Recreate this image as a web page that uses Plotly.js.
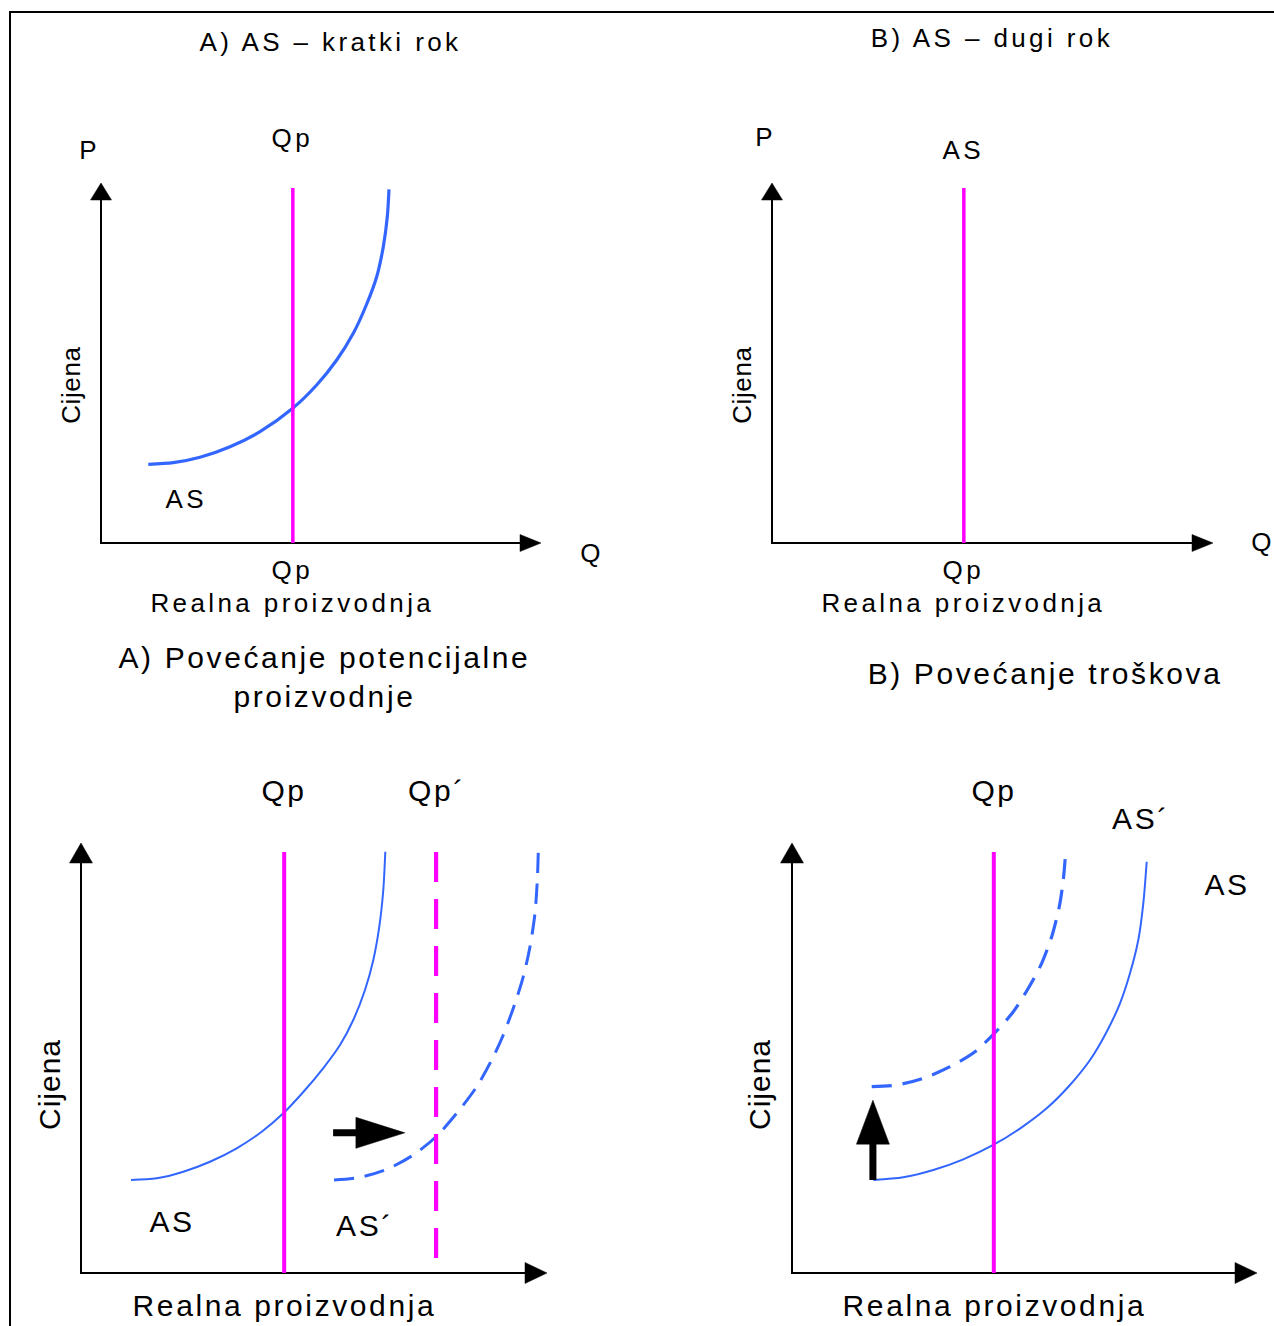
<!DOCTYPE html>
<html>
<head>
<meta charset="utf-8">
<script src="https://cdn.plot.ly/plotly-3.0.1.min.js"></script>
<style>html,body{margin:0;padding:0;background:#fff}</style>
</head>
<body>
<div id="chart" style="width:1274px;height:1326px"></div>
<script>
// ===================== DATA (Q and P in chart units, axes run 0..10) =====================
// Panel A) AS - kratki rok
const qpA = 4.36;
const qpA_top = 9.86;
const asA_q = [1.075, 1.643, 2.250, 2.932, 3.614, 4.357, 4.902, 5.357, 5.734, 6.039, 6.266, 6.416, 6.507, 6.545];
const asA_p = [2.186, 2.231, 2.381, 2.675, 3.092, 3.742, 4.389, 5.083, 5.825, 6.639, 7.397, 8.231, 9.064, 9.825];

// Panel B) AS - dugi rok
const qpB = 4.35;
const qpB_top = 9.86;

// Panel A) Povecanje potencijalne proizvodnje
const qpC = 4.36;
const qpC_top = 9.79;
const qpC2 = 7.62;
const qpC2_range = [9.79, 0.26];
const asC_q = [1.073, 1.624, 2.195, 2.768, 3.341, 3.878, 4.341, 4.770, 5.200, 5.558, 5.843, 6.094, 6.273, 6.401, 6.487, 6.530];
const asC_p = [2.163, 2.202, 2.356, 2.588, 2.900, 3.286, 3.714, 4.209, 4.767, 5.302, 5.884, 6.581, 7.279, 8.053, 8.907, 9.798];
const asC2_q = [5.429, 5.987, 6.560, 7.131, 7.618, 8.062, 8.491, 8.813, 9.062, 9.313, 9.491, 9.635, 9.742, 9.792, 9.813];
const asC2_p = [2.163, 2.226, 2.412, 2.744, 3.170, 3.714, 4.333, 4.953, 5.535, 6.272, 6.891, 7.588, 8.365, 9.140, 9.798];
const shiftC_q = [5.41, 6.95];
const shiftC_p = [3.26, 3.26];

// Panel B) Povecanje troskova
const qpD = 4.34;
const qpD_top = 9.79;
const asD_q = [1.748, 2.394, 3.039, 3.684, 4.329, 4.940, 5.477, 5.978, 6.409, 6.768, 7.054, 7.269, 7.447, 7.555, 7.628];
const asD_p = [2.163, 2.226, 2.395, 2.644, 2.977, 3.388, 3.830, 4.372, 4.953, 5.612, 6.272, 6.970, 7.744, 8.598, 9.565];
const asD2_q = [1.714, 2.252, 2.824, 3.398, 3.935, 4.387, 4.759, 5.082, 5.369, 5.585, 5.748, 5.834, 5.886];
const asD2_p = [4.333, 4.372, 4.528, 4.798, 5.147, 5.612, 6.077, 6.621, 7.202, 7.821, 8.519, 9.140, 9.798];
const shiftD_q = [1.74, 1.74];
const shiftD_p = [2.16, 4.02];

const axisMax = 10;

// Texts
const titleA = 'A) AS – kratki rok';
const titleB = 'B) AS – dugi rok';
const titleC = 'A) Povećanje potencijalne<br>proizvodnje';
const titleD = 'B) Povećanje troškova';
const xLabel = 'Realna proizvodnja';
const yLabel = 'Cijena';

// ===================== LAYOUT / STYLE =====================
const W = 1274, H = 1326;
const BLUE = '#3366FF', MAG = '#FF00FF';
const FONT = 'Arial, "Liberation Sans", sans-serif';
const RMIN = -0.5, RMAX = 10.3;

// panel geometry: origin pixel and pixels per unit
const panels = [
  {sfx: '',  ox: 101, oy: 543,  sx: 44.0, sy: 36.0, yHead: [17, 21], xHead: [21, 17]},
  {sfx: '2', ox: 772, oy: 543,  sx: 44.1, sy: 36.0, yHead: [17, 21], xHead: [21, 17]},
  {sfx: '3', ox: 81,  oy: 1273, sx: 46.6, sy: 43.0, yHead: [20, 23], xHead: [22, 21]},
  {sfx: '4', ox: 792, oy: 1273, sx: 46.5, sy: 43.0, yHead: [20, 23], xHead: [22, 21]}
];

function ax(p) { return {x: 'x' + p.sfx, y: 'y' + p.sfx}; }

// filled triangular head; dir in pixel space (x right, y up)
function head(p, q, v, dir, L, Wd) {
  const dx = dir[0], dy = dir[1];
  const nx = -dy, ny = dx;
  const bx = -L * dx, by = -L * dy;
  const pts = [[0, 0], [bx + nx * Wd / 2, by + ny * Wd / 2], [bx - nx * Wd / 2, by - ny * Wd / 2], [0, 0]];
  const a = ax(p);
  return {
    type: 'scatter', mode: 'lines', xaxis: a.x, yaxis: a.y,
    x: pts.map(t => q + t[0] / p.sx), y: pts.map(t => v + t[1] / p.sy),
    fill: 'toself', fillcolor: '#000', line: {color: '#000', width: 0.5},
    hoverinfo: 'skip', showlegend: false
  };
}

function line(p, x, y, color, width, dash, shape) {
  const a = ax(p);
  return {
    type: 'scatter', mode: 'lines', xaxis: a.x, yaxis: a.y, x: x, y: y,
    line: {color: color, width: width, dash: dash || 'solid', shape: shape || 'linear', smoothing: 0.8},
    hoverinfo: 'skip', showlegend: false
  };
}

function axesTraces(p) {
  return [
    line(p, [0, 0, axisMax - p.xHead[0] / 2 / p.sx], [axisMax - p.yHead[0] / 2 / p.sy, 0, 0], '#000', 2),
    head(p, 0, axisMax, [0, 1], p.yHead[0], p.yHead[1]),
    head(p, axisMax, 0, [1, 0], p.xHead[0], p.xHead[1])
  ];
}

function arrow(p, qs, ps, dir, L, Wd, width) {
  const endQ = qs[1] - dir[0] * (L * 0.5) / p.sx;
  const endP = ps[1] - dir[1] * (L * 0.5) / p.sy;
  const shaft = line(p, [qs[0], endQ], [ps[0], endP], '#000', width);
  return [shaft, head(p, qs[1], ps[1], dir, L, Wd)];
}

const [pA, pB, pC, pD] = panels;
const data = [
  // Panel A
  ...axesTraces(pA),
  line(pA, asA_q, asA_p, BLUE, 3.2, 'solid', 'spline'),
  line(pA, [qpA, qpA], [0, qpA_top], MAG, 3.5),
  // Panel B
  ...axesTraces(pB),
  line(pB, [qpB, qpB], [0, qpB_top], MAG, 3.5),
  // Panel C
  ...axesTraces(pC),
  line(pC, asC_q, asC_p, BLUE, 2, 'solid', 'spline'),
  line(pC, asC2_q, asC2_p, BLUE, 3, '20px,11px', 'spline'),
  line(pC, [qpC, qpC], [0, qpC_top], MAG, 4),
  line(pC, [qpC2, qpC2], qpC2_range, MAG, 4.2, '30px,17px'),
  ...arrow(pC, shiftC_q, shiftC_p, [1, 0], 49, 31, 7),
  // Panel D
  ...axesTraces(pD),
  line(pD, asD_q, asD_p, BLUE, 2, 'solid', 'spline'),
  line(pD, asD2_q, asD2_p, BLUE, 3.2, '20px,11px', 'spline'),
  line(pD, [qpD, qpD], [0, qpD_top], MAG, 4),
  ...arrow(pD, shiftD_q, shiftD_p, [0, 1], 44, 33, 7)
];

const layout = {
  width: W, height: H,
  margin: {l: 0, r: 0, t: 0, b: 0, pad: 0},
  paper_bgcolor: '#fff', plot_bgcolor: 'rgba(0,0,0,0)',
  showlegend: false,
  shapes: [{
    type: 'rect', xref: 'paper', yref: 'paper',
    x0: 10 / W, x1: 1.05, y0: -0.05, y1: 1 - 12 / H,
    line: {color: '#000', width: 2}
  }],
  annotations: []
};

panels.forEach(p => {
  const axCommon = {range: [RMIN, RMAX], showgrid: false, zeroline: false, showticklabels: false,
    ticks: '', showline: false, fixedrange: true};
  layout['xaxis' + p.sfx] = Object.assign({}, axCommon, {
    domain: [(p.ox + RMIN * p.sx) / W, (p.ox + RMAX * p.sx) / W], anchor: 'y' + p.sfx});
  layout['yaxis' + p.sfx] = Object.assign({}, axCommon, {
    domain: [1 - (p.oy - RMIN * p.sy) / H, 1 - (p.oy - RMAX * p.sy) / H], anchor: 'x' + p.sfx});
});

// text labels (pixel centres -> paper)
const spacing = [];
function txt(text, px, py, size, ls, angle) {
  layout.annotations.push({
    xref: 'paper', yref: 'paper', x: px / W, y: 1 - py / H,
    xanchor: 'center', yanchor: 'middle', showarrow: false,
    text: text, textangle: angle || 0,
    font: {family: FONT, size: size, color: '#000'}
  });
  spacing.push(ls);
}
const ST = 26, SB = 30, LT = 3.4, LB = 2.6;
// top-left
txt(titleA, 331, 42.5, ST, LT);
txt('P', 89, 149.5, ST, LT);
txt('Qp', 292, 138, ST, LT);
txt('AS', 186, 498.5, ST, LT);
txt('Q', 592, 553, ST, LT);
txt('Qp', 292, 570, ST, LT);
txt(xLabel, 292, 603, ST, LT);
txt(yLabel, 71, 385, ST, 0.6, -90);
// top-right
txt(titleB, 992, 38, ST, LT);
txt('P', 765, 137.5, ST, LT);
txt('AS', 963, 149.5, ST, LT);
txt('Q', 1263, 542, ST, LT);
txt('Qp', 963, 570, ST, LT);
txt(xLabel, 963, 603, ST, LT);
txt(yLabel, 742, 385, ST, 0.6, -90);
// bottom-left
txt(titleC, 324, 677, SB, LB);
txt('Qp', 284, 790, SB, LB);
txt('Qp´', 437, 790, SB, LB);
txt('AS', 172, 1221, SB, LB);
txt('AS´', 365, 1225.5, SB, LB);
txt(yLabel, 49, 1085, SB, 1, -90);
txt(xLabel, 284, 1305, SB, LB);
// bottom-right
txt(titleD, 1045, 673, SB, LB);
txt('Qp', 994, 790, SB, LB);
txt('AS´', 1141, 818, SB, LB);
txt('AS', 1227, 884, SB, LB);
txt(yLabel, 759, 1085, SB, 1, -90);
txt(xLabel, 994, 1305, SB, LB);

Plotly.newPlot('chart', data, layout, {staticPlot: true, displayModeBar: false}).then(function () {
  document.querySelectorAll('g.annotation').forEach(function (g) {
    const i = parseInt(g.getAttribute('data-index'), 10);
    const t = g.querySelector('text');
    if (t && spacing[i] != null) t.style.letterSpacing = spacing[i] + 'px';
  });
});
</script>
</body>
</html>
